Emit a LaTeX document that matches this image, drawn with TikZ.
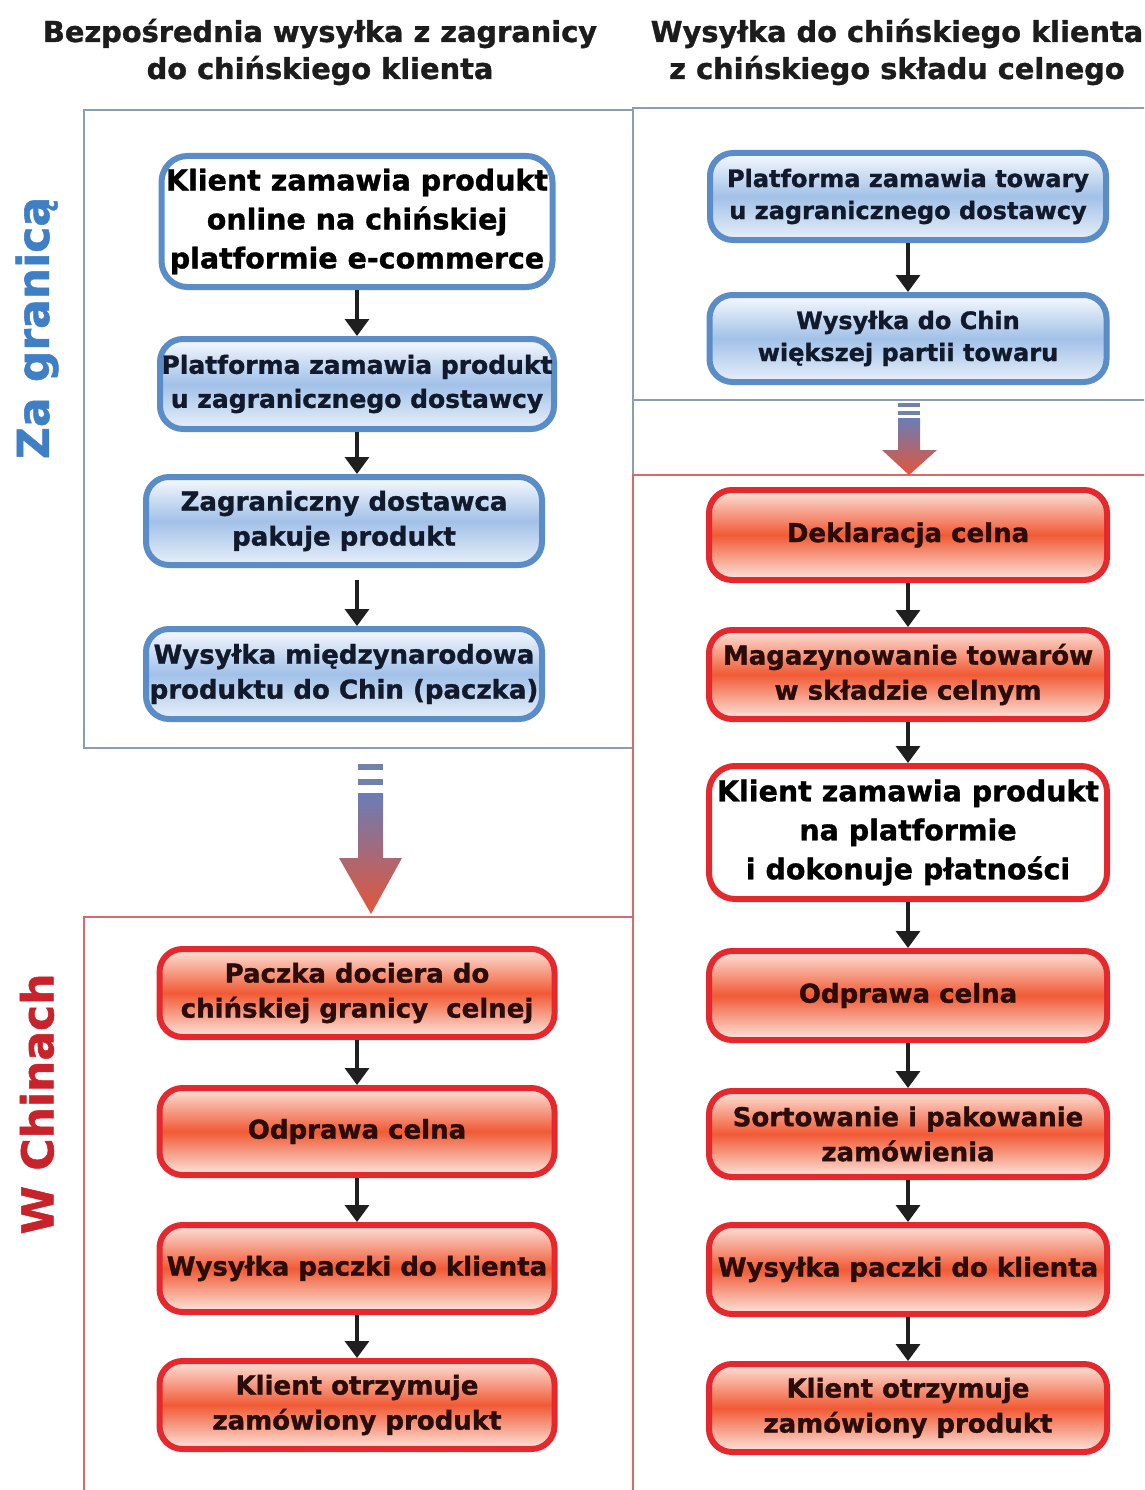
\documentclass[tikz,border=0pt]{standalone}
\usepackage{fontspec}
\setmainfont{DejaVu Sans}[BoldFeatures={FakeBold=1.2}]
\usetikzlibrary{arrows.meta}
\definecolor{frameblue}{HTML}{8A9DB5}
\definecolor{framered}{HTML}{D46A6A}
\definecolor{boxblue}{HTML}{5A8CC8}
\definecolor{bluelt}{HTML}{F7FAFE}
\definecolor{bluemid}{HTML}{A2C1E8}
\definecolor{bluelt2}{HTML}{E8F0FA}
\definecolor{navytext}{HTML}{111A2C}
\definecolor{boxred}{HTML}{E4282E}
\definecolor{redlt}{HTML}{FDE3DA}
\definecolor{redmid}{HTML}{F15A35}
\definecolor{redlt2}{HTML}{FDE6DE}
\definecolor{redtext}{HTML}{2A0C08}
\definecolor{arrtop}{HTML}{6A7DB6}
\definecolor{arrbot}{HTML}{E4553A}
\definecolor{arrdash}{HTML}{7082AC}
\definecolor{sideblue}{HTML}{3F7FC6}
\definecolor{sidered}{HTML}{C8222B}
\definecolor{titletext}{HTML}{1C1C1C}
\newcommand{\fTitle}{\fontsize{28.8}{37}\selectfont\bfseries}
\newcommand{\fBig}{\fontsize{28.5}{39}\selectfont\bfseries}
\newcommand{\fBox}{\fontsize{26}{35}\selectfont\bfseries}
\newcommand{\fBoxN}{\fontsize{25}{34}\selectfont\bfseries}
\newcommand{\fSmall}{\fontsize{24}{32}\selectfont\bfseries}
\newcommand{\fSide}{\fontsize{44}{50}\selectfont\bfseries}
\begin{document}
\begin{tikzpicture}[x=1pt,y=-1pt,
  blueframe/.style={draw=frameblue, line width=1.6pt},
  redframe/.style={draw=framered, line width=1.3pt},
  boxbase/.style={line width=6pt, rounded corners=23pt, align=center, inner sep=0pt},
  bluebox/.style={boxbase, draw=boxblue, top color=bluelt, bottom color=bluelt2, middle color=bluemid, text=navytext, font=\fBox},
  redbox/.style={boxbase, draw=boxred, top color=redlt, bottom color=redlt2, middle color=redmid, text=redtext, font=\fBox},
  whiteblue/.style={boxbase, rounded corners=26pt, draw=boxblue, fill=white, text=black, font=\fBig},
  whitered/.style={boxbase, rounded corners=26pt, draw=boxred, fill=white, text=black, font=\fBig},
  flow/.style={line width=3.5pt, draw=black!88, -{Triangle[width=24pt,length=17pt]}},
  bigarrow/.style={top color=arrtop, bottom color=arrbot},
  dashbar/.style={fill=arrdash}
]
\clip (0,0) rectangle (1144,1490);
\fill[white] (0,0) rectangle (1144,1490);

% frames
\draw[blueframe] (84,110) rectangle (633,748);
\draw[blueframe] (1150,108) -- (633,108) -- (633,400) -- (1150,400);
\draw[redframe] (84,1500) -- (84,917) -- (633,917) -- (633,1500);
\draw[redframe] (633,1500) -- (633,475) -- (1150,475);

% titles
\node[font=\fTitle, align=center, text=titletext] (t1) at (320,52) {Bezpośrednia wysyłka z zagranicy\\do chińskiego klienta};
\node[font=\fTitle, align=center, text=titletext] (t2) at (897,52) {Wysyłka do chińskiego klienta\\z chińskiego składu celnego};

% side labels
\node[rotate=90, font=\fSide, text=sideblue] (s1) at (37,328) {Za granicą};
\node[rotate=90, font=\fSide, text=sidered] (s2) at (37,1104) {W Chinach};

% left column
\node[whiteblue, minimum width=391pt, minimum height=131pt] (L1) at (357,221.5) {Klient zamawia produkt\\online na chińskiej\\platformie e-commerce};
\node[bluebox, font=\fBoxN, minimum width=394pt, minimum height=90pt] (L2) at (357,384) {Platforma zamawia produkt\\u zagranicznego dostawcy};
\node[bluebox, minimum width=396pt, minimum height=88pt] (L3) at (344,521) {Zagraniczny dostawca\\pakuje produkt};
\node[bluebox, minimum width=396pt, minimum height=90pt] (L4) at (344,674) {Wysyłka międzynarodowa\\produktu do Chin (paczka)};
\node[redbox, minimum width=395pt, minimum height=88pt] (L5) at (357,993) {Paczka dociera do\\chińskiej granicy~ celnej};
\node[redbox, minimum width=395pt, minimum height=87pt] (L6) at (357,1131.5) {Odprawa celna};
\node[redbox, minimum width=395pt, minimum height=87pt] (L7) at (357,1268.5) {Wysyłka paczki do klienta};
\node[redbox, minimum width=395pt, minimum height=88pt] (L8) at (357,1405) {Klient otrzymuje\\zamówiony produkt};

\draw[flow] (L1.south) -- (L2.north);
\draw[flow] (L2.south -| L1.south) -- (L3.north -| L1.south);
\draw[flow, shorten <=12pt] (L3.south -| L1.south) -- (L4.north -| L1.south);
\draw[flow] (L5.south) -- (L6.north);
\draw[flow] (L6.south) -- (L7.north);
\draw[flow] (L7.south) -- (L8.north);

% right column
\node[bluebox, font=\fSmall, minimum width=396pt, minimum height=87pt] (R1) at (908,196.5) {Platforma zamawia towary\\u zagranicznego dostawcy};
\node[bluebox, font=\fSmall, minimum width=397pt, minimum height=87pt] (R2) at (908,338.5) {Wysyłka do Chin\\większej partii towaru};
\node[redbox, minimum width=398pt, minimum height=90pt] (R3) at (908,535) {Deklaracja celna};
\node[redbox, minimum width=398pt, minimum height=89pt] (R4) at (908,674.5) {Magazynowanie towarów\\w składzie celnym};
\node[whitered, minimum width=398pt, minimum height=133pt] (R5) at (908,832.5) {Klient zamawia produkt\\na platformie\\i dokonuje płatności};
\node[redbox, minimum width=398pt, minimum height=89pt] (R6) at (908,995.5) {Odprawa celna};
\node[redbox, minimum width=398pt, minimum height=86pt] (R7) at (908,1134) {Sortowanie i pakowanie\\zamówienia};
\node[redbox, minimum width=398pt, minimum height=89pt] (R8) at (908,1269.5) {Wysyłka paczki do klienta};
\node[redbox, minimum width=398pt, minimum height=88pt] (R9) at (908,1408) {Klient otrzymuje\\zamówiony produkt};

\draw[flow] (R1.south) -- (R2.north);
\draw[flow] (R3.south) -- (R4.north);
\draw[flow] (R4.south) -- (R5.north);
\draw[flow] (R5.south) -- (R6.north);
\draw[flow] (R6.south) -- (R7.north);
\draw[flow] (R7.south) -- (R8.north);
\draw[flow] (R8.south) -- (R9.north);

% big transition arrows
\fill[dashbar] (358,764) rectangle (383,770);
\fill[dashbar] (358,779) rectangle (383,785);
\shade[bigarrow] (358,793) -- (383,793) -- (383,858) -- (402,858) -- (371,914) -- (339,858) -- (358,858) -- cycle;

\fill[dashbar] (898,403) rectangle (920,407);
\fill[dashbar] (898,411) rectangle (920,415);
\shade[bigarrow] (898,418) -- (920,418) -- (920,450) -- (937,450) -- (909,475) -- (882,450) -- (898,450) -- cycle;
\end{tikzpicture}
\end{document}
